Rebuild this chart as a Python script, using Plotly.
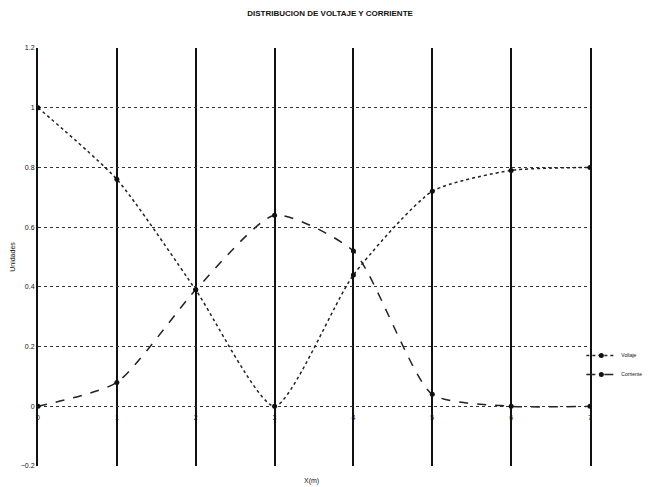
import plotly.graph_objects as go

# Distance along the line (m) and the normalised magnitudes at each point
x_pos = [0, 1, 2, 3, 4, 5, 6, 7]
voltaje = [1.00, 0.76, 0.39, 0.00, 0.44, 0.72, 0.79, 0.80]
corriente = [0.00, 0.08, 0.39, 0.64, 0.52, 0.04, 0.00, 0.00]
y_ticks = [-0.2, 0, 0.2, 0.4, 0.6, 0.8, 1.0, 1.2]

FONT = "Liberation Sans, Arial, sans-serif"
INK = "#111111"

fig = go.Figure()
fig.add_trace(go.Scatter(
    x=x_pos, y=voltaje, name="Voltaje", mode="lines+markers",
    line=dict(color="#222222", width=1.5, dash="dot", shape="spline", smoothing=0.6),
    marker=dict(size=5, color=INK),
))
fig.add_trace(go.Scatter(
    x=x_pos, y=corriente, name="Corriente", mode="lines+markers",
    line=dict(color="#222222", width=1.5, dash="dash", shape="spline", smoothing=0.6),
    marker=dict(size=5, color=INK),
))

fig.update_layout(
    width=651, height=487,
    margin=dict(l=38, r=61, t=48, b=21, autoexpand=False),
    paper_bgcolor="white", plot_bgcolor="white",
    font=dict(family=FONT, size=7, color=INK),
    title=dict(text="<b>DISTRIBUCION DE VOLTAJE Y CORRIENTE</b>",
               x=0.507, xanchor="center", y=0.972, yanchor="middle",
               font=dict(size=8, family=FONT, color=INK)),
    showlegend=True,
    legend=dict(xref="container", yref="container", x=0.893, y=0.3,
                xanchor="left", yanchor="top",
                font=dict(size=5, color=INK), bgcolor="rgba(0,0,0,0)",
                itemwidth=30, tracegroupgap=0),
    annotations=[dict(text="X(m)", xref="paper", yref="paper", x=0.496, y=-0.036,
                      xanchor="center", yanchor="middle", showarrow=False,
                      font=dict(size=7, family=FONT, color=INK))],
)

fig.update_xaxes(
    range=[0, 7], tickvals=x_pos, ticktext=[str(v) for v in x_pos],
    anchor="free", position=0.2 / 1.4,
    showgrid=True, gridcolor=INK, gridwidth=2,
    showline=False, zeroline=False, ticks="", ticklen=0,
    ticklabelstandoff=6, tickfont=dict(size=7, color=INK),
)
fig.update_yaxes(
    range=[-0.2, 1.2], tickvals=y_ticks,
    showgrid=True, gridcolor="#333333", gridwidth=1, griddash="dot",
    zeroline=False, showline=True, linecolor=INK, linewidth=2, mirror=True,
    ticks="", tickfont=dict(size=7, color=INK),
    title=dict(text="Unidades", font=dict(size=7, color=INK), standoff=4),
)

fig.write_html("out.html")
